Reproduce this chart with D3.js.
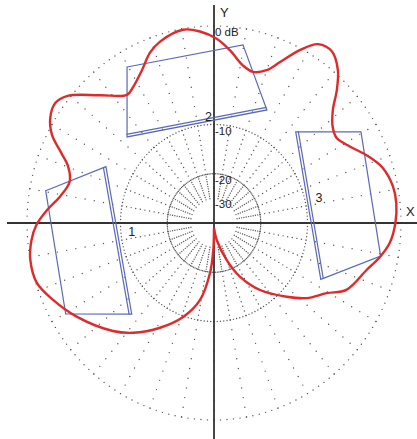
<!DOCTYPE html>
<html>
<head>
<meta charset="utf-8">
<script src="https://cdn.jsdelivr.net/npm/d3@7"></script>
<style>
  html, body { margin: 0; padding: 0; background: #fff; }
  svg { display: block; }
  text { font-family: "Liberation Sans", Arial, sans-serif; fill: #222; }
</style>
</head>
<body>
<svg id="chart" width="417" height="439"></svg>
<script>
// Polar response pattern (dB) for three-box arrangement
const patternAngles = [-90, -80.5, -70.1, -63, -54.1, -43.9, -37.6, -30.6, -25.6, -16.3, -10.9, -6.2, 0, 5.9, 10.9, 17.2, 22.9, 28, 33.3, 37.5, 42, 45.7, 49.5, 54, 58.5, 62.4, 66.6, 70.1, 74.8, 79.1, 84.4, 89.1, 94.4, 99.6, 107.4, 111.6, 116.5, 122, 125.6, 133.2, 140.5, 144.4, 148.7, 152.7, 156.5, 159.9, 164.8, 170.8, 175.8, 180.6, 185.1, 190.8, 197.8, 204.4, 212.9, 225.4, 232.2, 241.5, 250.9, 259.2, 265.2, 268.4, 270];
const patternDb = [-38, -33, -24, -17.8, -13.2, -9.2, -7.5, -6, -4.3, -3, -1.9, -1.1, -0.6, -0.4, -0.5, -1.1, -2.3, -3.5, -4.3, -4, -2.9, -1.2, 0.4, 1.5, 1.3, -0.2, -2.2, -3.5, -4.1, -3.7, -2.4, -1.3, -0.5, -0.1, -0.7, -1.4, -2.7, -3.7, -4, -2.2, 0.3, 0.9, 0.5, -0.5, -2.2, -3.4, -4, -3.3, -2.1, -1, -0.4, 0, -0.1, -1.1, -2.5, -4.6, -5.9, -7.9, -9.9, -14.1, -19.8, -29, -38];

// Grid levels
const ringLevels = [0, -10, -20];
const labelLevels = [0, -10, -20, -30];
const labelTexts = ["0 dB", "-10", "-20", "-30"];
const spokeStep = 10;      // degrees between spokes
const spokeDbMin = -30;
const spokeDbMax = 0;

// Boxes in plane units (0 dB ring = 1)
const boxNames = ["1", "2", "3"];
const boxCorners = [
  [[-0.900, 0.164], [-0.578, 0.286], [-0.440, -0.463], [-0.793, -0.462]],
  [[-0.465, 0.792], [0.155, 0.904], [0.283, 0.574], [-0.465, 0.437]],
  [[0.437, 0.463], [0.786, 0.463], [0.891, -0.168], [0.571, -0.286]]
];
const boxFrontEdge = [1, 2, 3];
const boxLabelPos = [[-0.440, -0.044], [-0.030, 0.539], [0.561, 0.128]];

const W = 417, H = 439;
const cx = 214, cy = 223, rx = 187, ry = 197;

const svg = d3.select("#chart");
const xScale = d3.scaleLinear().domain([-1, 1]).range([cx - rx, cx + rx]);
const yScale = d3.scaleLinear().domain([-1, 1]).range([cy + ry, cy - ry]);
const rScale = d3.scaleLinear().domain([-30, -20, -10, 0]).range([0.125, 0.25, 0.5, 1]);

const rad = d => d * Math.PI / 180;
function project(angle, db) {
  const r = rScale(db);
  return [xScale(r * Math.cos(rad(angle))), yScale(r * Math.sin(rad(angle)))];
}

const grid = svg.append("g").attr("fill", "#555");

// Dotted rings, one dot every 2 degrees
ringLevels.forEach(level => {
  grid.selectAll(null)
    .data(d3.range(0, 360, 2))
    .join("circle")
    .attr("cx", a => project(a, level)[0])
    .attr("cy", a => project(a, level)[1])
    .attr("r", 0.7);
});

// Dotted spokes, one dot per dB
const spokeDots = [];
d3.range(0, 360, spokeStep).forEach(a => {
  d3.range(spokeDbMin, spokeDbMax + 1, 1).forEach(db => spokeDots.push([a, db]));
});
grid.selectAll(null)
  .data(spokeDots)
  .join("circle")
  .attr("cx", d => project(d[0], d[1])[0])
  .attr("cy", d => project(d[0], d[1])[1])
  .attr("r", 0.7);

// Axes
svg.append("line")
  .attr("x1", 7).attr("x2", W)
  .attr("y1", yScale(0)).attr("y2", yScale(0))
  .attr("stroke", "#333").attr("stroke-width", 1.8);
svg.append("line")
  .attr("x1", xScale(0)).attr("x2", xScale(0))
  .attr("y1", 5).attr("y2", H)
  .attr("stroke", "#333").attr("stroke-width", 1.8);

svg.append("text").attr("x", 406).attr("y", 216).attr("font-size", 13).text("X");
svg.append("text").attr("x", 220).attr("y", 17).attr("font-size", 13).text("Y");

// Level labels just right of the Y axis
labelLevels.forEach((level, i) => {
  svg.append("text")
    .attr("x", xScale(0) + 1)
    .attr("y", project(90, level)[1] + 10)
    .attr("font-size", 11.5)
    .text(labelTexts[i]);
});

// Boxes
const boxG = svg.append("g")
  .attr("fill", "none")
  .attr("stroke", "#5a68b8")
  .attr("stroke-width", 1.2);

boxCorners.forEach((corners, i) => {
  const pts = corners.map(c => [xScale(c[0]), yScale(c[1])]);
  boxG.append("path").attr("d", d3.line()(pts) + "Z");
  // doubled front edge, offset toward the box interior
  const a = pts[boxFrontEdge[i]], b = pts[(boxFrontEdge[i] + 1) % 4];
  const ctr = [d3.mean(pts, p => p[0]), d3.mean(pts, p => p[1])];
  let nx = -(b[1] - a[1]), ny = b[0] - a[0];
  const len = Math.hypot(nx, ny);
  nx /= len; ny /= len;
  const mid = [(a[0] + b[0]) / 2, (a[1] + b[1]) / 2];
  if ((ctr[0] - mid[0]) * nx + (ctr[1] - mid[1]) * ny < 0) { nx = -nx; ny = -ny; }
  const off = 2.6;
  boxG.append("line")
    .attr("x1", a[0] + nx * off).attr("y1", a[1] + ny * off)
    .attr("x2", b[0] + nx * off).attr("y2", b[1] + ny * off);
  svg.append("text")
    .attr("x", xScale(boxLabelPos[i][0]))
    .attr("y", yScale(boxLabelPos[i][1]))
    .attr("dy", "0.35em")
    .attr("text-anchor", "middle")
    .attr("font-size", 12.5)
    .text(boxNames[i]);
});

// Response curve
const patternPts = patternAngles.map((a, i) => project(a, patternDb[i]));
svg.append("path")
  .attr("d", d3.line().curve(d3.curveCatmullRom.alpha(0.5))(patternPts))
  .attr("fill", "none")
  .attr("stroke", "#e02a2a")
  .attr("stroke-width", 2.4)
  .attr("stroke-linejoin", "round");
</script>
</body>
</html>
